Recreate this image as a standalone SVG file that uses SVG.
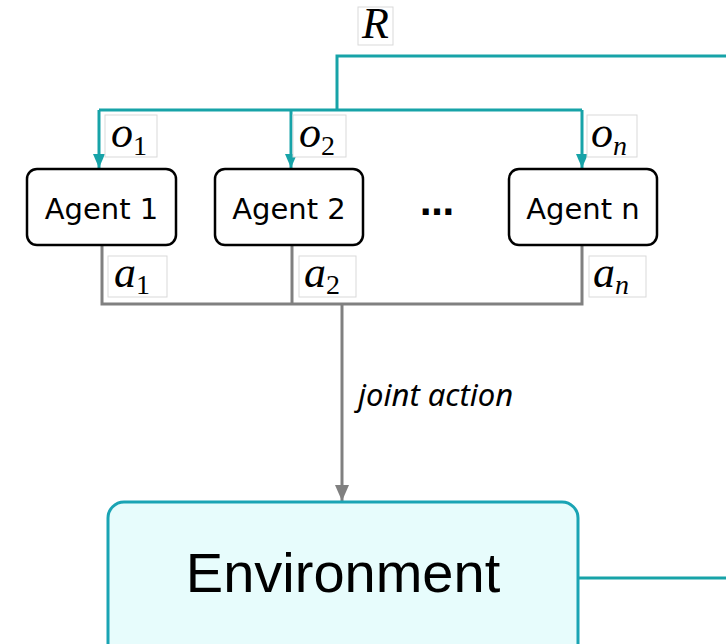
<svg xmlns="http://www.w3.org/2000/svg" width="726" height="644" viewBox="0 0 726 644">
  <defs>
    <marker id="tealHead" viewBox="0 0 14 12" refX="14" refY="6" markerWidth="14" markerHeight="12" markerUnits="userSpaceOnUse" orient="auto">
      <path d="M0,0 L14,6 L0,12 Z" fill="#17a3a8"/>
    </marker>
    <marker id="grayHead" viewBox="0 0 16 14" refX="16" refY="7" markerWidth="16" markerHeight="14" markerUnits="userSpaceOnUse" orient="auto">
      <path d="M0,0 L16,7 L0,14 Z" fill="#808080"/>
    </marker>
  </defs>
  <style>
    .agent rect { fill: #ffffff; stroke: #000000; stroke-width: 2.5; }
    .agent text { font-family: "DejaVu Sans", sans-serif; font-size: 29px; fill: #000; text-anchor: middle; }
    .teal { fill: none; stroke: #17a3a8; stroke-width: 3; }
    .gray { fill: none; stroke: #808080; stroke-width: 3; }
    .lbl rect { fill: #ffffff; stroke: #d9d9d9; stroke-width: 1; }
    .lbl text { font-family: "Liberation Serif", "DejaVu Serif", serif; fill: #000; }
    .mi { font-style: italic; font-size: 44px; }
    .sub { font-size: 28px; }
    .subi { font-size: 28px; font-style: italic; }
  </style>

  <!-- connectors -->
  <g id="connectors">
    <!-- reward / observation feedback from the environment -->
    <path class="teal" d="M578,578 H726"/>
    <path class="teal" d="M726,56 H337 V110"/>
    <path class="teal" d="M99,110 H582"/>
    <path class="teal" d="M99,110 V168" marker-end="url(#tealHead)"/>
    <path class="teal" d="M291,110 V168" marker-end="url(#tealHead)"/>
    <path class="teal" d="M582,110 V168" marker-end="url(#tealHead)"/>
    <!-- individual actions merged into the joint action -->
    <path class="gray" d="M102,245 V304 H582 V245"/>
    <path class="gray" d="M292,245 V304"/>
    <path class="gray" d="M342,304 V501" marker-end="url(#grayHead)"/>
  </g>

  <!-- agents -->
  <g id="agent1" class="agent">
    <rect x="27" y="169" width="149" height="76" rx="10"/>
    <text x="101.5" y="219">Agent 1</text>
  </g>
  <g id="agent2" class="agent">
    <rect x="215" y="169" width="148" height="76" rx="10"/>
    <text x="289" y="219">Agent 2</text>
  </g>
  <g id="dots">
    <text x="437" y="215" font-family="DejaVu Sans, sans-serif" font-size="34" font-weight="bold" text-anchor="middle">…</text>
  </g>
  <g id="agentn" class="agent">
    <rect x="509" y="169" width="148" height="76" rx="10"/>
    <text x="583" y="219">Agent n</text>
  </g>

  <!-- environment -->
  <g id="environment">
    <rect x="108" y="502" width="470" height="160" rx="16" fill="#e7fcfc" stroke="#1aa4b4" stroke-width="3"/>
    <text x="343" y="592" font-family="Liberation Sans, Arial, sans-serif" font-size="56" text-anchor="middle" fill="#000">Environment</text>
  </g>

  <!-- edge label -->
  <g id="joint-action-label">
    <text x="358" y="406" font-family="Noto Sans, sans-serif" font-style="italic" font-size="31" fill="#000">joint action</text>
  </g>

  <!-- math labels -->
  <g id="label-R" class="lbl">
    <rect x="358" y="7" width="35" height="38"/>
    <text x="362" y="38" class="mi">R</text>
  </g>
  <g id="label-o1" class="lbl">
    <rect x="105" y="115" width="52" height="42"/>
    <text x="111" y="147"><tspan class="mi">o</tspan><tspan class="sub" dy="8">1</tspan></text>
  </g>
  <g id="label-o2" class="lbl">
    <rect x="293" y="115" width="53" height="42"/>
    <text x="299" y="147"><tspan class="mi">o</tspan><tspan class="sub" dy="8">2</tspan></text>
  </g>
  <g id="label-on" class="lbl">
    <rect x="587" y="115" width="50" height="42"/>
    <text x="591" y="147"><tspan class="mi">o</tspan><tspan class="subi" dy="8">n</tspan></text>
  </g>
  <g id="label-a1" class="lbl">
    <rect x="108" y="256" width="59" height="41"/>
    <text x="114" y="287"><tspan class="mi">a</tspan><tspan class="sub" dy="7">1</tspan></text>
  </g>
  <g id="label-a2" class="lbl">
    <rect x="299" y="256" width="57" height="41"/>
    <text x="304" y="287"><tspan class="mi">a</tspan><tspan class="sub" dy="7">2</tspan></text>
  </g>
  <g id="label-an" class="lbl">
    <rect x="589" y="256" width="57" height="41"/>
    <text x="593" y="287"><tspan class="mi">a</tspan><tspan class="subi" dy="7">n</tspan></text>
  </g>
</svg>
